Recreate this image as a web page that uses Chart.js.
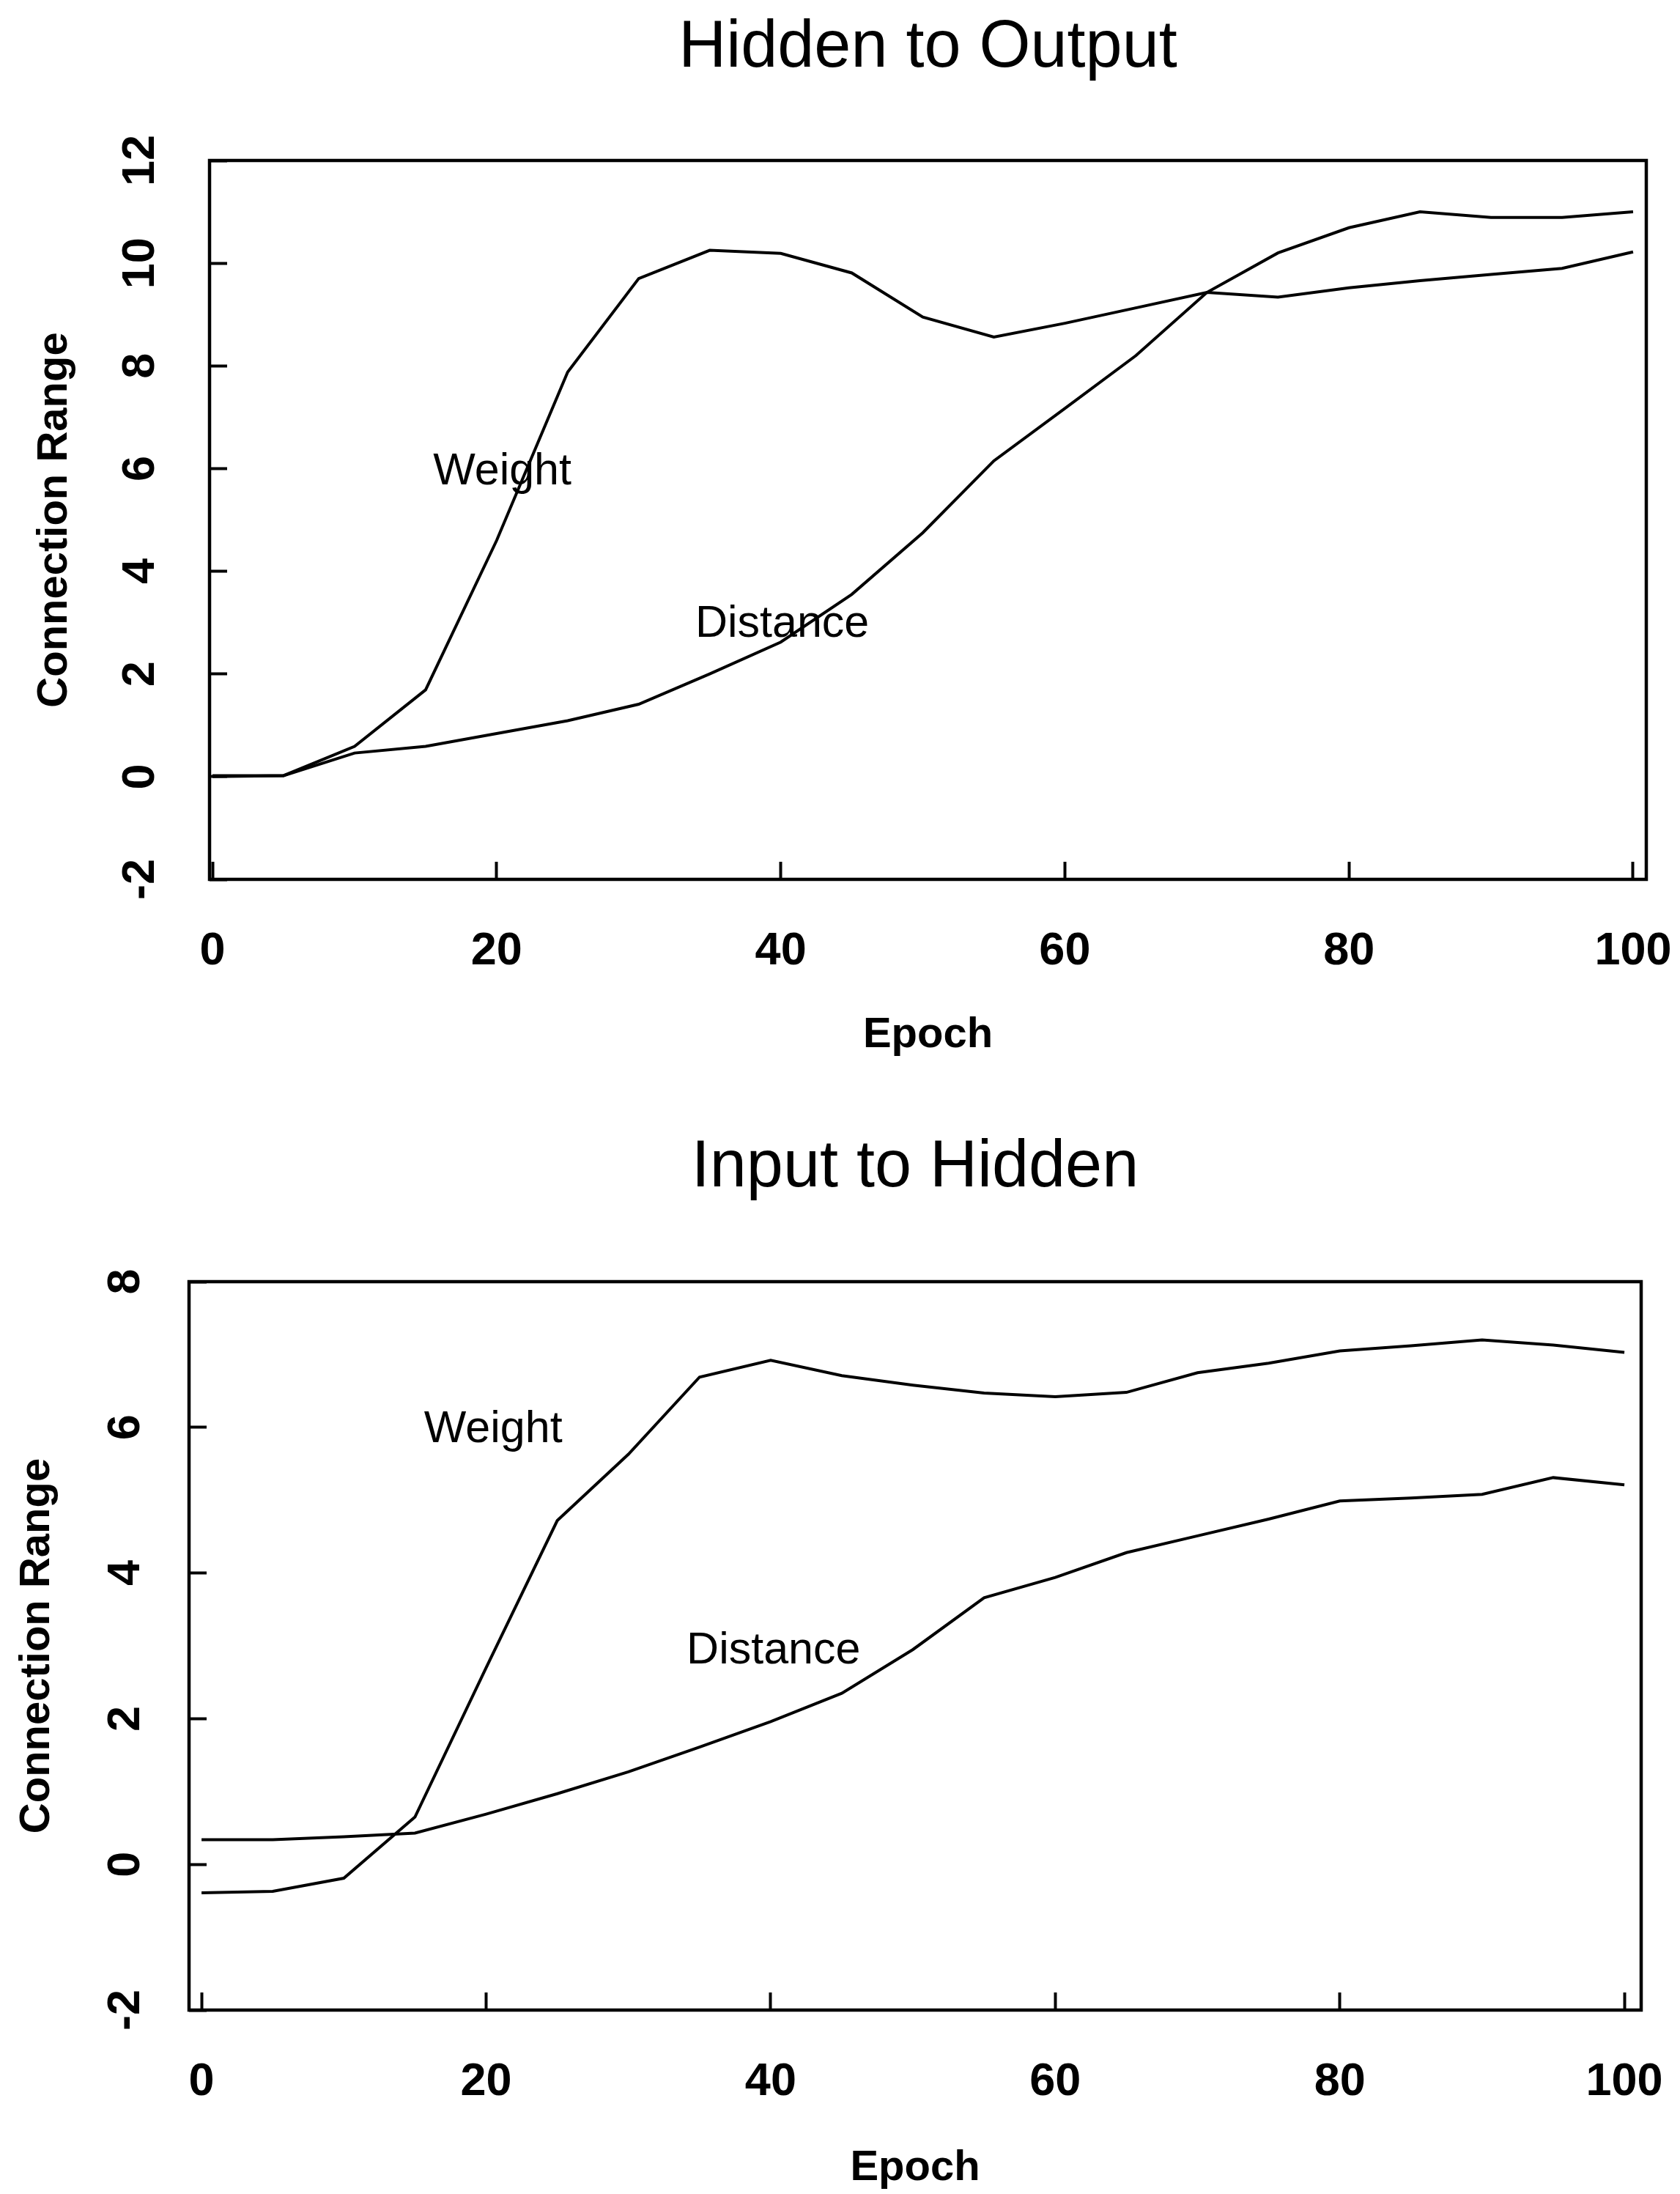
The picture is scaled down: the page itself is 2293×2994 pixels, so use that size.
<!DOCTYPE html>
<html>
<head>
<meta charset="utf-8">
<title>Connection Range</title>
<script src="https://cdn.jsdelivr.net/npm/chart.js@4.4.1/dist/chart.umd.min.js"></script>
<style>
  body { margin: 0; background: #fff; }
  #page { position: relative; width: 2293px; height: 2994px; background: #fff; }
  canvas { position: absolute; left: 0; }
</style>
</head>
<body>
<div id="page">
  <canvas id="hidden-output" width="2293" height="1460" style="top:0"></canvas>
  <canvas id="input-hidden" width="2293" height="1534" style="top:1460px"></canvas>
</div>
<script>
/**
 * Data
 */
const epochs = [0, 5, 10, 15, 20, 25, 30, 35, 40, 45, 50, 55, 60, 65, 70, 75, 80, 85, 90, 95, 100];
const xTicks = [0, 20, 40, 60, 80, 100];

// Hidden to Output
const hoWeight = [0.0, 0.02, 0.59, 1.69, 4.6, 7.88, 9.7, 10.25, 10.19, 9.81, 8.95, 8.56, 8.83, 9.13, 9.43, 9.34, 9.52, 9.66, 9.78, 9.9, 10.22];
const hoDistance = [0.02, 0.02, 0.46, 0.59, 0.84, 1.09, 1.41, 2.0, 2.62, 3.55, 4.75, 6.15, 7.17, 8.2, 9.43, 10.2, 10.69, 11.0, 10.89, 10.89, 11.0];
const hoYTicks = [-2, 0, 2, 4, 6, 8, 10, 12];

// Input to Hidden
const ihWeight = [-0.39, -0.37, -0.19, 0.65, 2.7, 4.72, 5.63, 6.69, 6.92, 6.71, 6.58, 6.47, 6.42, 6.48, 6.75, 6.88, 7.05, 7.12, 7.2, 7.13, 7.03];
const ihDistance = [0.34, 0.34, 0.38, 0.43, 0.69, 0.97, 1.27, 1.61, 1.96, 2.35, 2.95, 3.66, 3.94, 4.28, 4.51, 4.74, 4.99, 5.03, 5.08, 5.31, 5.21];
const ihYTicks = [-2, 0, 2, 4, 6, 8];

const seriesNames = ['Weight', 'Distance'];

/**
 * Layout
 */
const FONT = '"Liberation Sans", Arial, Helvetica, sans-serif';
Chart.defaults.font.family = FONT;
Chart.defaults.color = '#000';

const hoLayout = {
  xMin: -0.21, xMax: 100.93, yWidth: 286, xHeight: 260, padRight: 46,
  titlePad: { top: 21, bottom: 108 }, yTickPad: 82, yTitlePad: 46, xTickPad: 91, xTitlePad: 18,
  notes: [{ x: 20.4, y: 5.93 }, { x: 40.1, y: 2.96 }]
};
const ihLayout = {
  xMin: -0.88, xMax: 101.18, yWidth: 258, xHeight: 251, padRight: 53,
  titlePad: { top: 89, bottom: 110 }, yTickPad: 81, yTitlePad: 22, xTickPad: 91, xTitlePad: 6,
  notes: [{ x: 20.5, y: 5.97 }, { x: 40.2, y: 2.93 }]
};

/**
 * Methods
 */
const toPoints = (values) => values.map((v, i) => ({ x: epochs[i], y: v }));

// box around the plot and the in-plot series names
const frameAndNotes = {
  id: 'frameAndNotes',
  afterDatasetsDraw(chart, args, opts) {
    const { ctx, chartArea: a, scales: { x, y } } = chart;
    ctx.save();
    ctx.strokeStyle = '#000';
    ctx.lineWidth = 4.5;
    ctx.strokeRect(a.left, a.top, a.width, a.height);
    ctx.fillStyle = '#000';
    ctx.font = '61px ' + FONT;
    ctx.textAlign = 'center';
    ctx.textBaseline = 'middle';
    opts.notes.forEach((n, i) => {
      ctx.fillText(seriesNames[i], x.getPixelForValue(n.x), y.getPixelForValue(n.y));
    });
    ctx.restore();
  }
};

// keep the plot box where it is: no extra room for overhanging tick labels
const fixSize = (prop, size) => (scale) => {
  scale[prop] = size;
  scale.paddingLeft = 0;
  scale.paddingRight = 0;
  scale.paddingTop = 0;
  scale.paddingBottom = 0;
};

const createGraphic = (id, title, weight, distance, yTicks, lay) => {
  const ctx = document.getElementById(id).getContext('2d');
  const line = (label, data) => ({
    label,
    data: toPoints(data),
    borderColor: '#000',
    borderWidth: 4,
    pointRadius: 0,
    tension: 0,
    fill: false
  });

  return new Chart(ctx, {
    type: 'line',
    data: {
      datasets: [line(seriesNames[0], weight), line(seriesNames[1], distance)]
    },
    options: {
      responsive: false,
      animation: false,
      devicePixelRatio: 1,
      layout: { padding: { left: 0, right: lay.padRight, top: 0, bottom: 0 } },
      plugins: {
        legend: { display: false },
        tooltip: { enabled: false },
        title: {
          display: true,
          text: title,
          fullSize: false,
          color: '#000',
          font: { size: 90, weight: 'normal', lineHeight: 1 },
          padding: lay.titlePad
        },
        frameAndNotes: { notes: lay.notes }
      },
      scales: {
        x: {
          type: 'linear',
          min: lay.xMin,
          max: lay.xMax,
          afterBuildTicks: (scale) => { scale.ticks = xTicks.map(v => ({ value: v })); },
          afterFit: fixSize('height', lay.xHeight),
          border: { display: false },
          grid: { drawOnChartArea: false, tickLength: -24, tickWidth: 4, tickColor: '#000' },
          ticks: {
            autoSkip: false, maxRotation: 0, padding: lay.xTickPad, color: '#000',
            font: { size: 63, weight: 'bold', lineHeight: 1 }
          },
          title: {
            display: true, text: 'Epoch', color: '#000',
            font: { size: 58, weight: 'bold', lineHeight: 1 },
            padding: { top: 0, bottom: lay.xTitlePad }
          }
        },
        y: {
          min: yTicks[0],
          max: yTicks[yTicks.length - 1],
          afterBuildTicks: (scale) => { scale.ticks = yTicks.map(v => ({ value: v })); },
          afterFit: fixSize('width', lay.yWidth),
          border: { display: false },
          grid: { drawOnChartArea: false, tickLength: -24, tickWidth: 4, tickColor: '#000' },
          ticks: {
            autoSkip: false, minRotation: 90, maxRotation: 90, crossAlign: 'center',
            padding: lay.yTickPad, color: '#000',
            font: { size: 63, weight: 'bold', lineHeight: 1 }
          },
          title: {
            display: true, text: 'Connection Range', color: '#000',
            font: { size: 58, weight: 'bold', lineHeight: 1 },
            padding: { top: lay.yTitlePad, bottom: 0 }
          }
        }
      }
    },
    plugins: [frameAndNotes]
  });
};

/**
 * Events
 */
document.addEventListener('DOMContentLoaded', () => {
  createGraphic('hidden-output', 'Hidden to Output', hoWeight, hoDistance, hoYTicks, hoLayout);
  createGraphic('input-hidden', 'Input to Hidden', ihWeight, ihDistance, ihYTicks, ihLayout);
});
</script>
</body>
</html>
